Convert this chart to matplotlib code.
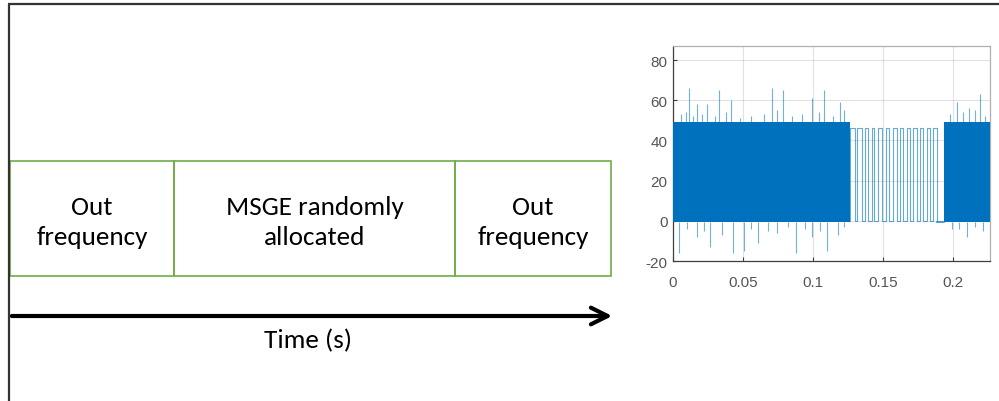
import numpy as np
import matplotlib
matplotlib.use("Agg")
import matplotlib.pyplot as plt
from matplotlib.patches import Rectangle, FancyArrowPatch

# ---------------- data ----------------
segment_labels = ["Out\nfrequency", "MSGE randomly\nallocated", "Out\nfrequency"]
segment_bounds = [10, 174, 455, 611]          # diagram pixel columns of box edges
axis_label = "Time (s)"

x_ticks = [0, 0.05, 0.1, 0.15, 0.2]
x_tick_labels = ["0", "0.05", "0.1", "0.15", "0.2"]
y_ticks = [-20, 0, 20, 40, 60, 80]
y_tick_labels = ["-20", "0", "20", "40", "60", "80"]

dense_starts = [0.0, 0.1936]
dense_ends = [0.1264, 0.2264]
dense_top = 49.0
dense_bottom = -0.5

up_spike_t = [0.0112, 0.0174, 0.0245, 0.0329, 0.0414, 0.0705, 0.0788, 0.0990,
              0.1080, 0.1190, 0.2030, 0.2114, 0.2190,
              0.0060, 0.0090, 0.0140, 0.0210, 0.0300, 0.0380, 0.0480, 0.0560,
              0.0650, 0.0740, 0.0850, 0.0920, 0.1040, 0.1140, 0.1220, 0.1980,
              0.2070, 0.2160, 0.2230]
up_spike_v = [66, 58, 58, 65, 60, 66, 65, 61, 65, 59, 59, 56, 63,
              53, 54, 52, 53, 52, 54, 51, 52, 53, 55, 52, 53, 54, 52, 55, 53,
              54, 55, 52]
down_spike_t = [0.0045, 0.0170, 0.0264, 0.0350, 0.0430, 0.0510, 0.0605, 0.0740,
                0.0880, 0.0990, 0.1100, 0.1180, 0.2100, 0.2214,
                0.0100, 0.0220, 0.0560, 0.0680, 0.0820, 0.0940, 0.1050, 0.1220,
                0.1990, 0.2040, 0.2160]
down_spike_v = [-16, -8, -13, -7, -16, -15, -11, -6, -16, -8, -15, -7, -8, -5,
                -4, -5, -4, -5, -3, -4, -5, -3, -4, -4, -3]

pulse_edges = [0.1264, 0.1300, 0.1317, 0.1348, 0.1371, 0.1395, 0.1419, 0.1436,
               0.1467, 0.1491, 0.1519, 0.1545, 0.1574, 0.1598, 0.1621, 0.1640,
               0.1669, 0.1693, 0.1717, 0.1740, 0.1764, 0.1788, 0.1812, 0.1836,
               0.1860, 0.1883]
pulse_high = 46.4
pulse_low = 0.0
idle_start, idle_end, idle_level = 0.1883, 0.1936, -0.8

# ---------------- figure ----------------
W, H = 999, 402
fig = plt.figure(figsize=(W / 100, H / 100), dpi=100)
fig.patch.set_facecolor("white")

# diagram layer in pixel coords
dg = fig.add_axes([0, 0, 1, 1])
dg.set_xlim(0, W)
dg.set_ylim(H, 0)
dg.axis("off")

text_font = ["Carlito", "Lato", "DejaVu Sans"]
green = "#70AD47"

# figure frame (top and left)
dg.plot([8, W], [5, 5], color="#333333", lw=1.6, solid_capstyle="butt")
dg.plot([9, 9], [5, H], color="#333333", lw=1.6, solid_capstyle="butt")

box_top, box_bot = 162, 277
for i, lab in enumerate(segment_labels):
    x0, x1 = segment_bounds[i], segment_bounds[i + 1]
    dg.add_patch(Rectangle((x0, box_top), x1 - x0, box_bot - box_top,
                           fill=False, edgecolor=green, lw=1.2))
    dg.text((x0 + x1) / 2, (box_top + box_bot) / 2 + 3, lab, ha="center",
            va="center", fontsize=19.5, family=text_font, color="black",
            linespacing=1.38)

arrow = FancyArrowPatch((9, 317), (615, 317), arrowstyle="->,head_length=12,head_width=6",
                        color="black", lw=3, mutation_scale=1)
dg.add_patch(arrow)
dg.text(308, 341, axis_label, ha="center", va="center", fontsize=19.5,
        family=text_font, color="black")

# ---------------- inset plot ----------------
ax = fig.add_axes([673 / W, 1 - 262 / H, (990 - 673) / W, (262 - 47) / H])
blue = "#0072BD"

for s, e in zip(dense_starts, dense_ends):
    ax.fill_between([s, e], [dense_bottom, dense_bottom], [dense_top, dense_top],
                    color=blue, lw=0, zorder=3)

ax.vlines(up_spike_t, dense_top, up_spike_v, color=blue, lw=0.8, alpha=0.55, zorder=2)
ax.vlines(down_spike_t, dense_bottom, down_spike_v, color=blue, lw=0.8, alpha=0.55, zorder=2)

levels = [pulse_high if i % 2 == 0 else pulse_low for i in range(len(pulse_edges) - 1)]
px = np.repeat(pulse_edges, 2)[1:-1]
py = np.repeat(levels, 2)
px = np.concatenate([[pulse_edges[0]], px, [pulse_edges[-1]]])
py = np.concatenate([[pulse_low], py, [pulse_low]])
ax.plot(px, py, color=blue, lw=0.8, alpha=0.6, zorder=3)
ax.plot([idle_start, idle_end], [idle_level, idle_level], color=blue, lw=1.2,
        alpha=0.8, zorder=3)

ax.set_xlim(0, 0.2264)
ax.set_ylim(-20, 87)
ax.set_xticks(x_ticks)
ax.set_xticklabels(x_tick_labels)
ax.set_yticks(y_ticks)
ax.set_yticklabels(y_tick_labels)
ax.grid(True, color="#262626", alpha=0.13, lw=0.8)
ax.set_axisbelow(True)

tick_font = ["Liberation Sans Narrow", "Liberation Sans"]
ax.tick_params(direction="in", length=3, width=0.8, colors="#404040",
               labelsize=11, labelcolor="#555555")
ax.tick_params(axis="x", pad=10)
ax.tick_params(axis="y", pad=4)
for lbl in ax.get_xticklabels() + ax.get_yticklabels():
    lbl.set_family(tick_font)

for side in ("left", "bottom"):
    ax.spines[side].set_color("#404040")
    ax.spines[side].set_linewidth(0.9)
for side in ("top", "right"):
    ax.spines[side].set_color("#b0b0b0")
    ax.spines[side].set_linewidth(0.9)

fig.savefig("out.png", dpi=100, facecolor="white")
